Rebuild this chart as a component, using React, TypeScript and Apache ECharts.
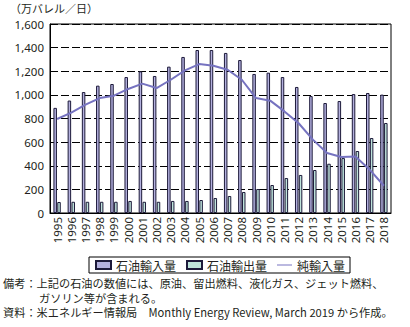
import React, { useEffect, useRef } from "react";
import * as echarts from "echarts";

const years = ["1995","1996","1997","1998","1999","2000","2001","2002","2003","2004","2005","2006","2007","2008","2009","2010","2011","2012","2013","2014","2015","2016","2017","2018"];
const imports = [890, 952, 1024, 1078, 1092, 1151, 1199, 1160, 1239, 1321, 1380, 1380, 1355, 1295, 1177, 1188, 1151, 1067, 990, 931, 948, 1007, 1016, 1002];
const exportsV = [93, 95, 95, 95, 95, 102, 95, 95, 102, 102, 110, 127, 144, 178, 203, 237, 296, 322, 364, 417, 465, 525, 635, 762];
const netImports = [796, 850, 917, 973, 993, 1050, 1095, 1058, 1128, 1207, 1261, 1247, 1213, 1128, 973, 951, 860, 760, 621, 508, 474, 479, 367, 231];
const yTicks = { min: 0, max: 1600, interval: 200 };
const unitLabel = "（万バレル／日）";
const seriesNames = ["石油輸入量", "石油輸出量", "純輸入量"];
const noteLines = [
  "備考：上記の石油の数値には、原油、留出燃料、液化ガス、ジェット燃料、",
  "ガソリン等が含まれる。",
  "資料：米エネルギー情報局　Monthly Energy Review, March 2019 から作成。",
];

const TXT = "#231f20";
const FONT = "'Noto Sans', 'Noto Sans CJK JP', sans-serif";
const JFONT = "'Noto Sans CJK JP', sans-serif";

export default function App() {
  const ref = useRef<HTMLDivElement>(null);
  useEffect(() => {
    document.body.style.margin = "0";
    const chart = echarts.init(ref.current!, null, { renderer: "svg" });
    const noteStyle = { fontSize: 11.2, fill: TXT, fontFamily: JFONT, verticalAlign: "middle", lineHeight: 12 };
    chart.setOption({
      animation: false,
      backgroundColor: "#fff",
      grid: { left: 50, right: 19, top: 24, bottom: 114, show: true, borderColor: "#000", borderWidth: 1 },
      legend: {
        left: 89,
        top: 257,
        data: [
          { name: seriesNames[0], icon: "rect" },
          { name: seriesNames[1], icon: "rect" },
          { name: seriesNames[2], icon: "path://M0,0H30V2H0Z" },
        ],
        itemWidth: 15,
        itemHeight: 8,
        itemGap: 10,
        borderColor: "#000",
        borderWidth: 1,
        padding: [2, 5, 2, 6],
        textStyle: { fontSize: 12, color: TXT, fontFamily: JFONT },
      },
      xAxis: {
        type: "category",
        data: years,
        axisLine: { lineStyle: { color: "#000", width: 1 } },
        axisTick: { inside: true, length: 3, lineStyle: { color: "#000" } },
        axisLabel: { rotate: 90, interval: 0, fontSize: 11.5, color: TXT, margin: 4, fontFamily: FONT },
      },
      yAxis: {
        type: "value",
        min: yTicks.min,
        max: yTicks.max,
        interval: yTicks.interval,
        axisLine: { show: true, lineStyle: { color: "#000", width: 1 } },
        axisTick: { show: false },
        axisLabel: {
          fontSize: 11.5,
          color: TXT,
          margin: 6,
          fontFamily: FONT,
          formatter: (v: number) => v.toLocaleString("en-US"),
        },
        splitLine: { lineStyle: { color: "#000", type: [8, 3], width: 1 } },
      },
      series: [
        {
          name: seriesNames[0],
          type: "bar",
          data: imports,
          barWidth: 3.5,
          barGap: "10%",
          itemStyle: { color: "#b3b0de", borderColor: "#1d1a3a", borderWidth: 1 },
        },
        {
          name: seriesNames[1],
          type: "bar",
          data: exportsV,
          barWidth: 3.5,
          itemStyle: { color: "#bfe4db", borderColor: "#1d1a3a", borderWidth: 1 },
        },
        {
          name: seriesNames[2],
          type: "line",
          data: netImports,
          symbol: "none",
          z: 5,
          itemStyle: { color: "#7673c0" },
          lineStyle: { color: "#7673c0", width: 2 },
        },
      ],
      graphic: [
        { type: "text", left: 10, top: 2, style: { text: unitLabel, fontSize: 11, fill: TXT, fontFamily: JFONT } },
        { type: "text", x: 3, y: 283, style: { text: noteLines[0], ...noteStyle } },
        { type: "text", x: 39, y: 297.5, style: { text: noteLines[1], ...noteStyle } },
        { type: "text", x: 3, y: 312, style: { text: noteLines[2], ...noteStyle } },
      ],
    });
    return () => chart.dispose();
  }, []);
  return <div ref={ref} style={{ position: "fixed", left: 0, top: 0, width: 410, height: 327 }} />;
}
